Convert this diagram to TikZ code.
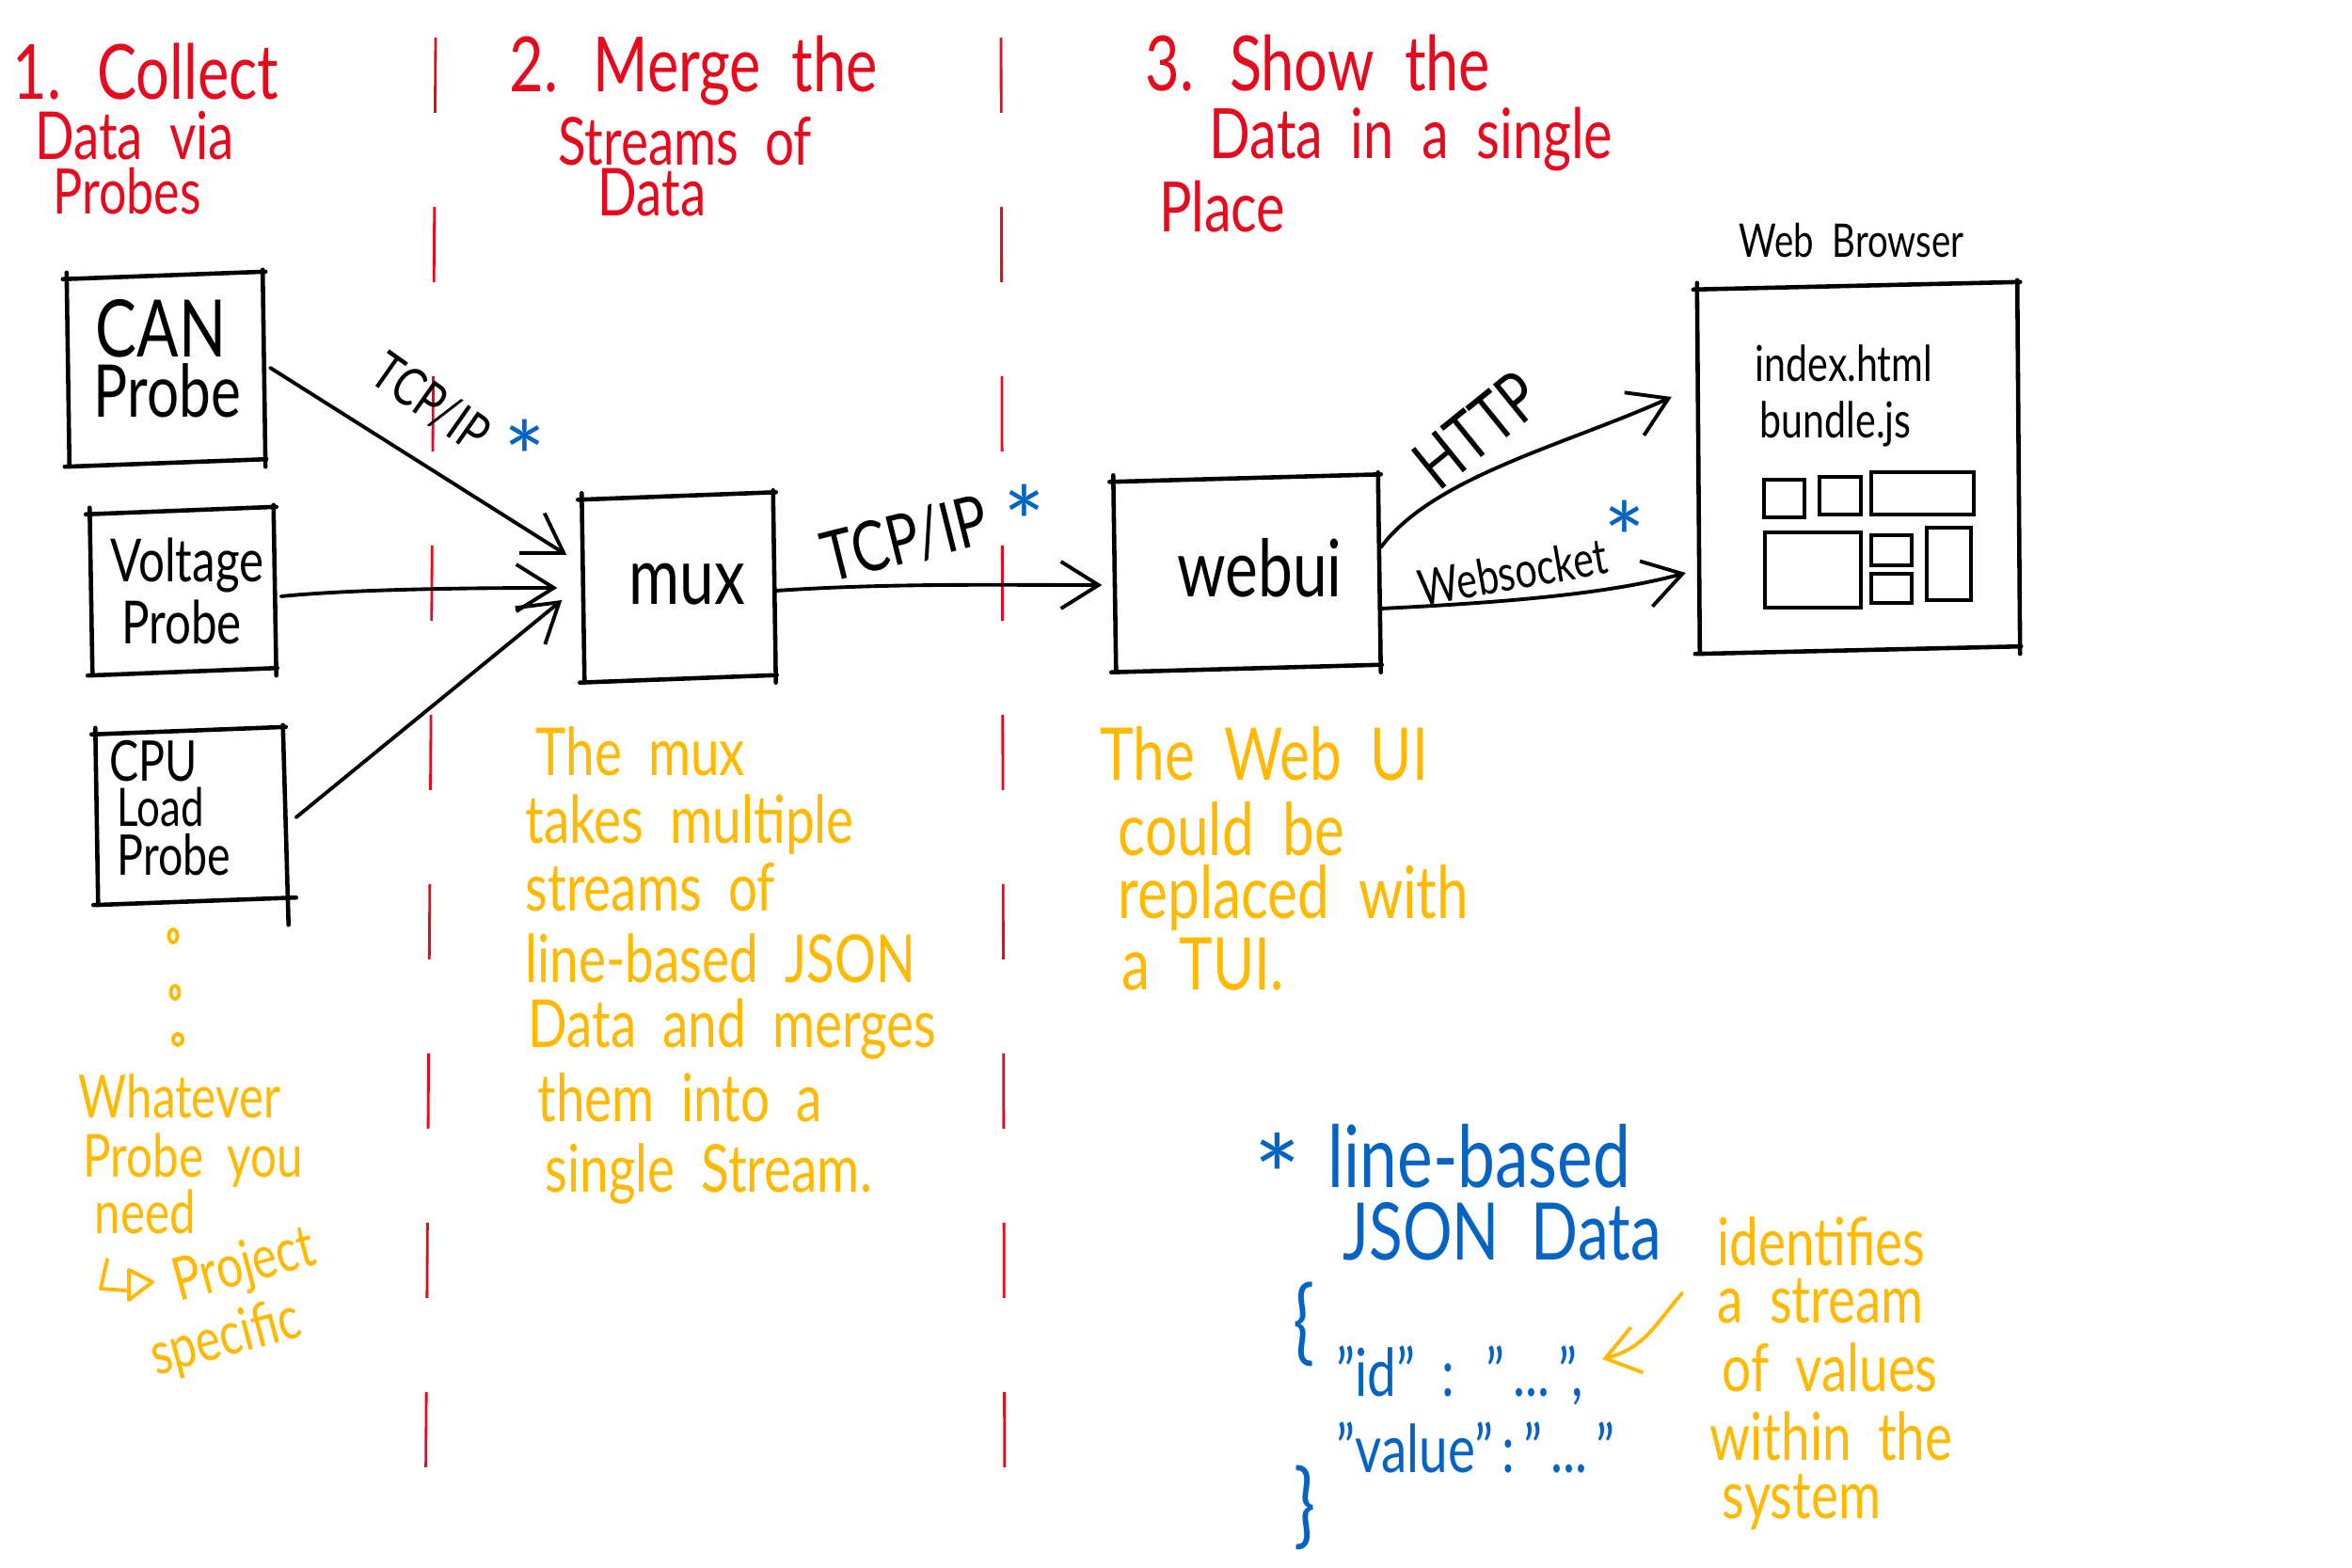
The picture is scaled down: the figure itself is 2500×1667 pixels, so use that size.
\documentclass[tikz,border=0pt]{standalone}
\usepackage{fontspec}
\setmainfont{Lato}[WordSpace=2]
\usepackage{graphicx}
\usetikzlibrary{arrows.meta,calc}
\definecolor{hred}{RGB}{230,10,30}
\definecolor{horange}{RGB}{255,185,0}
\definecolor{hblue}{RGB}{5,99,193}
\newcommand\sq[1]{\scalebox{0.78}[1]{#1}}
\tikzset{
  txt/.style={inner sep=0pt, font=\fontsize{#1}{#1}\selectfont},
  redtxt/.style={txt=#1, text=hred},
  blacktxt/.style={txt=#1, text=black},
  orangetxt/.style={txt=#1, text=horange},
  bluetxt/.style={txt=#1, text=hblue},
  boxn/.style={draw=none, inner sep=0pt},
  boxline/.style={line width=1.3pt, line cap=round},
  arr/.style={line width=1.1pt, line cap=round, -{Straight Barb[length=4mm,width=5mm]}},
  oarr/.style={line width=1.1pt, line cap=round, draw=horange, -{Straight Barb[length=3.5mm,width=5mm]}},
  sep/.style={draw=hred, line width=0.8pt, dash pattern=on 8mm off 10mm},
  minibox/.style={line width=1pt, line cap=round},
}
\newcommand\skbox[1]{%
  \draw[boxline] ([shift={(-4,6)}]#1.north west) -- ([shift={(3,-2)}]#1.north east);
  \draw[boxline] ([shift={(0,-4)}]#1.north east) -- ([shift={(3,5)}]#1.south east);
  \draw[boxline] ([shift={(0,-1)}]#1.north west) -- ([shift={(3,4)}]#1.south west);
  \draw[boxline] ([shift={(-2,5)}]#1.south west) -- ([shift={(4,-3)}]#1.south east);
}
\begin{document}
\begin{tikzpicture}[x=0.1mm, y=-0.1mm]
\useasboundingbox[fill=white] (0,0) rectangle (2500,1667);

% separators
\draw[sep] (463,40) -- (452,1650);
\draw[sep] (1064,40) -- (1068,1650);

% red headers
\node[redtxt=23, anchor=base] (h1a) at (155,106) {\sq{1. Collect}};
\node[redtxt=20, anchor=base] (h1b) at (143,170) {\sq{Data via}};
\node[redtxt=19, anchor=base] (h1c) at (135,228) {\sq{Probes}};
\node[redtxt=23, anchor=base] (h2a) at (737,98) {\sq{2. Merge the}};
\node[redtxt=20, anchor=base] (h2b) at (728,176) {\sq{Streams of}};
\node[redtxt=20, anchor=base] (h2c) at (693,230) {\sq{Data}};
\node[redtxt=23, anchor=base] (h3a) at (1401,97) {\sq{3. Show the}};
\node[redtxt=21, anchor=base] (h3b) at (1500,169) {\sq{Data in a single}};
\node[redtxt=21, anchor=base] (h3c) at (1299,247) {\sq{Place}};

% boxes
\node[boxn, minimum width=20.7mm, minimum height=19.9mm] (can) at (175,391) {};
\node[boxn, minimum width=19.4mm, minimum height=17.1mm] (volt) at (193,627) {};
\node[boxn, minimum width=19.8mm, minimum height=18.1mm] (cpu) at (201,866) {};
\node[boxn, minimum width=20.2mm, minimum height=19.4mm] (mux) at (720,623) {};
\node[boxn, minimum width=28mm, minimum height=20.2mm] (webui) at (1324,608) {};
\node[boxn, minimum width=33.9mm, minimum height=38.7mm] (browser) at (1974,496) {};
\skbox{can}
\skbox{volt}
\skbox{mux}
\skbox{webui}
\skbox{browser}
% CPU box with overshooting corner
\draw[boxline] ([shift={(-4,6)}]cpu.north west) -- ([shift={(3,-2)}]cpu.north east);
\draw[boxline] ([shift={(0,-4)}]cpu.north east) -- ([shift={(6,26)}]cpu.south east);
\draw[boxline] ([shift={(0,-1)}]cpu.north west) -- ([shift={(3,4)}]cpu.south west);
\draw[boxline] ([shift={(-2,5)}]cpu.south west) -- ([shift={(14,-3)}]cpu.south east);

% box texts
\node[blacktxt=24, anchor=base] (cant1) at (171,379) {\sq{CAN}};
\node[blacktxt=22, anchor=base] (cant2) at (178,443) {\sq{Probe}};
\node[blacktxt=18, anchor=base] (voltt1) at (199,618) {\sq{Voltage}};
\node[blacktxt=18, anchor=base] (voltt2) at (193,684) {\sq{Probe}};
\node[blacktxt=17, anchor=base west] (cput1) at (116,830) {\sq{CPU}};
\node[blacktxt=16, anchor=base west] (cput2) at (124,878) {\sq{Load}};
\node[blacktxt=17, anchor=base west] (cput3) at (124,930) {\sq{Probe}};
\node[blacktxt=24, anchor=base] (muxt) at (730,642) {\sq{mux}};
\node[blacktxt=24, anchor=base] (webuit) at (1339,634) {\sq{webui}};
\node[blacktxt=14, anchor=base] (brt) at (1968,274) {\sq{Web Browser}};
\node[blacktxt=15, anchor=base west] (idx) at (1865,406) {\sq{index.html}};
\node[blacktxt=15, anchor=base west] (bjs) at (1870,465) {\sq{bundle.js}};

% mini boxes in browser
\draw[minibox] (1875,510) rectangle (1918,550);
\draw[minibox] (1934,507) rectangle (1978,547);
\draw[minibox] (1989,502) rectangle (2098,547);
\draw[minibox] (1876,566) rectangle (1978,646);
\draw[minibox] (1989,569) rectangle (2032,601);
\draw[minibox] (1989,610) rectangle (2032,641);
\draw[minibox] (2048,561) rectangle (2095,638);

% dots
\draw[horange, line width=1.1pt] (184,995) ellipse [x radius=4.5, y radius=7];
\draw[horange, line width=1.1pt] (186,1055) ellipse [x radius=4.5, y radius=7];
\draw[horange, line width=1.1pt] (189,1105) ellipse [x radius=5, y radius=6];

% connectors
\draw[arr] ([shift={(8,0)}]can.east) -- ([shift={(-16,-33)}]mux.west);
\draw[arr] ([shift={(8,7)}]volt.east) .. controls +(80,-8) and +(-80,0) .. ([shift={(-26,2)}]mux.west);
\draw[arr] ([shift={(14,3)}]cpu.east) -- ([shift={(-21,15)}]mux.west);
\draw[arr] ([shift={(3,5)}]mux.east) .. controls +(120,-8) and +(-120,0) .. ([shift={(-12,14)}]webui.west);
\draw[arr] ([shift={(3,-26)}]webui.east) .. controls +(55,-75) and +(-110,50) .. ([shift={(-27,-74)}]browser.west);
\draw[arr] ([shift={(3,39)}]webui.east) .. controls +(100,-5) and +(-90,25) .. ([shift={(-12,113)}]browser.west);

% connector labels
\node[blacktxt=16, rotate=-35] (l1) at (458,428) {\sq{TCP/IP}};
\node[bluetxt=30] (a1) at (558,486) {*};
\node[blacktxt=21, rotate=14] (l2) at (962,573) {\sq{TCP/IP}};
\node[bluetxt=30] (a2) at (1089,555) {*};
\node[blacktxt=21, rotate=39] (l3) at (1570,457) {\sq{HTTP}};
\node[blacktxt=15, rotate=10] (l4) at (1608,608) {\sq{Websocket}};
\node[bluetxt=30] (a3) at (1727,572) {*};

% orange notes
\node[orangetxt=20, anchor=base west] (m1) at (569,824) {\sq{The mux}};
\node[orangetxt=20, anchor=base west] (m2) at (558,896) {\sq{takes multiple}};
\node[orangetxt=20, anchor=base west] (m3) at (558,968) {\sq{streams of}};
\node[orangetxt=20, anchor=base west] (m4) at (558,1044) {\sq{line-based JSON}};
\node[orangetxt=20, anchor=base west] (m5) at (561,1113) {\sq{Data and merges}};
\node[orangetxt=20, anchor=base west] (m6) at (571,1192) {\sq{them into a}};
\node[orangetxt=20, anchor=base west] (m7) at (579,1267) {\sq{single Stream.}};

\node[orangetxt=18, anchor=base west] (w1) at (83,1188) {\sq{Whatever}};
\node[orangetxt=18, anchor=base west] (w2) at (88,1251) {\sq{Probe you}};
\node[orangetxt=18, anchor=base west] (w3) at (100,1311) {\sq{need}};
\draw[horange, line width=1.1pt, line cap=round, line join=round] (114,1339) -- (107,1370) -- (135,1372);
\draw[horange, line width=1.1pt, line join=round] (137,1350) -- (162,1363) -- (137,1382) -- cycle;
\node[orangetxt=18, rotate=15] (w4) at (260,1347) {\sq{Project}};
\node[orangetxt=18, rotate=15] (w5) at (240,1424) {\sq{specific}};

\node[orangetxt=22, anchor=base west] (u1) at (1169,829) {\sq{The Web UI}};
\node[orangetxt=22, anchor=base west] (u2) at (1188,909) {\sq{could be}};
\node[orangetxt=22, anchor=base west] (u3) at (1188,976) {\sq{replaced with}};
\node[orangetxt=22, anchor=base west] (u4) at (1192,1052) {\sq{a TUI.}};

\node[orangetxt=20, anchor=base west] (i1) at (1825,1345) {\sq{identifies}};
\node[orangetxt=20, anchor=base west] (i2) at (1825,1406) {\sq{a stream}};
\node[orangetxt=20, anchor=base west] (i3) at (1830,1479) {\sq{of values}};
\node[orangetxt=20, anchor=base west] (i4) at (1817,1552) {\sq{within the}};
\node[orangetxt=20, anchor=base west] (i5) at (1830,1614) {\sq{system}};

% blue legend
\node[bluetxt=34] (a4) at (1358,1250) {*};
\node[bluetxt=26, anchor=base west] (b1) at (1411,1262) {\sq{line-based}};
\node[bluetxt=24, anchor=base west] (b2) at (1427,1339) {\sq{JSON Data}};
\node[bluetxt=28] (b3) at (1386,1408) {\sq{\{}};
\node[bluetxt=20, anchor=base west] (idl) at (1420,1484) {\sq{"id" : "\,...\,",}};
\node[bluetxt=20, anchor=base west] (vall) at (1420,1565) {\sq{"value"\,:\,"\,...\,"}};
\node[bluetxt=28] (b4) at (1387,1603) {\sq{\}}};

\coordinate (ostart) at ([shift={(-37,-8)}]i2.west);
\draw[oarr] (ostart) .. controls +(-30,35) and +(45,-12) .. (1703,1445);
\end{tikzpicture}
\end{document}
